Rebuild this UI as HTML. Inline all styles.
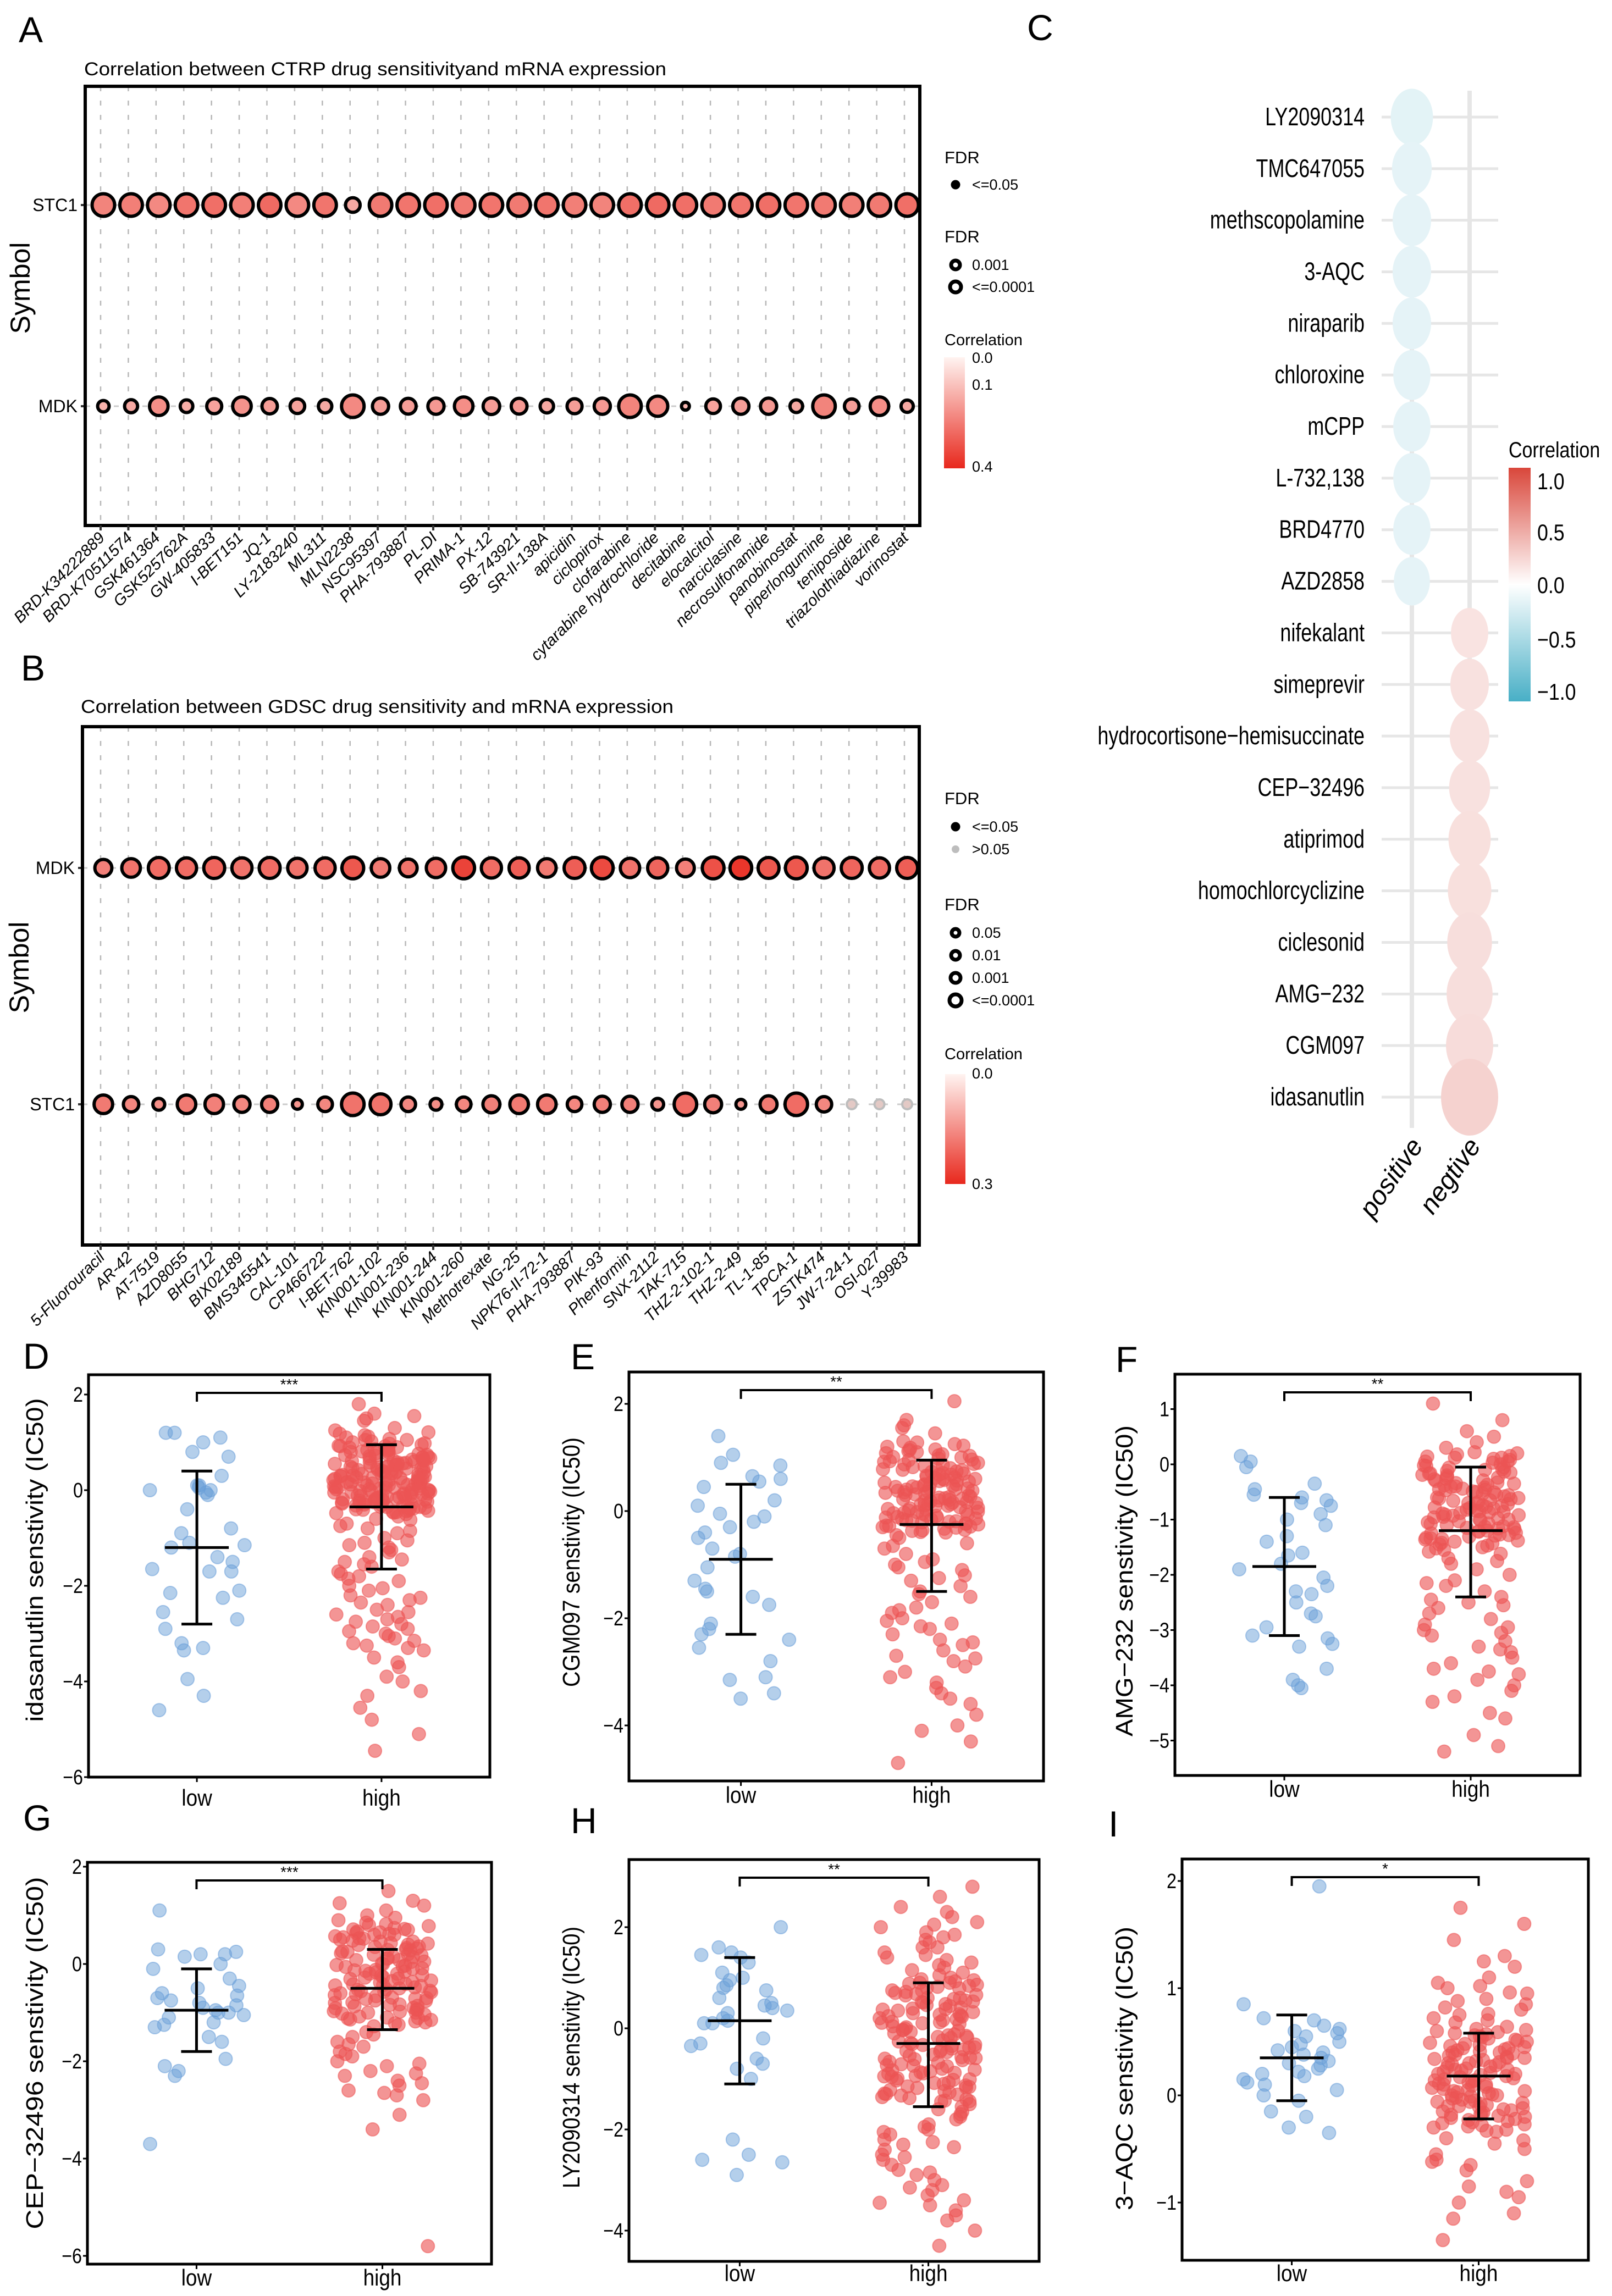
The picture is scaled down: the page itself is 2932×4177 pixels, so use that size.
<!DOCTYPE html>
<html><head><meta charset="utf-8"><style>
html,body{margin:0;padding:0;background:#fff;}
svg{display:block;font-family:"Liberation Sans",Arial,sans-serif;}
</style></head><body>
<svg id="fig" xmlns="http://www.w3.org/2000/svg" width="2932" height="4177" viewBox="0 0 2932 4177">
<defs>
<linearGradient id="gradA" x1="0" y1="0" x2="0" y2="1"><stop offset="0" stop-color="#fff4f1"/><stop offset="1" stop-color="#e8281d"/></linearGradient>
<linearGradient id="gradB" x1="0" y1="0" x2="0" y2="1"><stop offset="0" stop-color="#fff4f1"/><stop offset="1" stop-color="#e8281d"/></linearGradient>
<linearGradient id="gradC" x1="0" y1="0" x2="0" y2="1"><stop offset="0" stop-color="#d9473b"/><stop offset="0.5" stop-color="#ffffff"/><stop offset="1" stop-color="#48afc6"/></linearGradient>
</defs>
<g id="root"></g>
</svg>
<script>
// ---------- Panel A data ----------
const aDrugs = ["BRD-K34222889","BRD-K70511574","GSK461364","GSK525762A","GW-405833","I-BET151","JQ-1","LY-2183240","ML311","MLN2238","NSC95397","PHA-793887","PL-DI","PRIMA-1","PX-12","SB-743921","SR-II-138A","apicidin","ciclopirox","clofarabine","cytarabine hydrochloride","decitabine","elocalcitol","narciclasine","necrosulfonamide","panobinostat","piperlongumine","teniposide","triazolothiadiazine","vorinostat"];
const aStcCorr = [0.22,0.23,0.21,0.25,0.26,0.23,0.27,0.21,0.25,0.15,0.24,0.25,0.26,0.24,0.25,0.24,0.25,0.23,0.22,0.26,0.27,0.26,0.24,0.25,0.26,0.25,0.24,0.23,0.24,0.26];
const aStcSig = [5,5,5,5,5,5,5,5,5,3,5,5,5,5,5,5,5,5,5,5,5,5,5,5,5,5,5,5,5,5];
const aMdkCorr = [0.13,0.15,0.2,0.14,0.16,0.19,0.17,0.16,0.15,0.21,0.17,0.17,0.18,0.2,0.17,0.18,0.15,0.17,0.18,0.22,0.21,0.12,0.16,0.17,0.18,0.15,0.22,0.17,0.2,0.15];
const aMdkSig = [2.2,2.6,4,2.5,3.1,4,3.2,3,2.7,5,3.4,3.3,3.4,4,3.5,3.3,2.7,3.1,3.4,5,4.4,1.3,3,3.4,3.4,2.5,5,3,4,2.4];
// ---------- Panel B data ----------
const bDrugs = ["5-Fluorouracil","AR-42","AT-7519","AZD8055","BHG712","BIX02189","BMS345541","CAL-101","CP466722","I-BET-762","KIN001-102","KIN001-236","KIN001-244","KIN001-260","Methotrexate","NG-25","NPK76-II-72-1","PHA-793887","PIK-93","Phenformin","SNX-2112","TAK-715","THZ-2-102-1","THZ-2-49","TL-1-85","TPCA-1","ZSTK474","JW-7-24-1","OSI-027","Y-39983"];
const bMdkCorr = [0.17,0.19,0.2,0.2,0.21,0.19,0.2,0.19,0.2,0.23,0.18,0.19,0.2,0.26,0.2,0.22,0.18,0.22,0.25,0.19,0.21,0.17,0.24,0.28,0.23,0.23,0.19,0.21,0.2,0.22];
const bMdkSig = [3.6,4,4.6,4.4,4.6,4.4,4.6,4.2,4.4,4.8,4,3.8,4.2,4.8,4.4,4.4,4,4.6,4.8,4.2,4.4,3.8,4.8,4.8,4.6,4.8,4.4,4.6,4.4,4.6];
const bStcCorr = [0.18,0.16,0.15,0.18,0.17,0.16,0.17,0.14,0.16,0.19,0.19,0.16,0.15,0.16,0.17,0.18,0.18,0.16,0.17,0.17,0.14,0.2,0.17,0.14,0.18,0.2,0.16,0.05,0.05,0.05];
const bStcSig = [4,3.2,2.3,4,4,3.4,3.4,1.8,3,5,4.6,3,2.3,3,3.6,4,4,3,3.4,3.4,2.3,5,3.6,1.8,3.6,5,3.2,1.2,1.6,1.2];
const bStcSignif = [1,1,1,1,1,1,1,1,1,1,1,1,1,1,1,1,1,1,1,1,1,1,1,1,1,1,1,0,0,0];
// ---------- Panel C data ----------
const cDrugs = ["LY2090314","TMC647055","methscopolamine","3-AQC","niraparib","chloroxine","mCPP","L-732,138","BRD4770","AZD2858","nifekalant","simeprevir","hydrocortisone\u2212hemisuccinate","CEP\u221232496","atiprimod","homochlorcyclizine","ciclesonid","AMG\u2212232","CGM097","idasanutlin"];
const cGroup = [0,0,0,0,0,0,0,0,0,0,1,1,1,1,1,1,1,1,1,1];
const cCorr = [-0.17,-0.16,-0.16,-0.16,-0.16,-0.16,-0.16,-0.16,-0.16,-0.16,0.17,0.18,0.18,0.18,0.19,0.19,0.2,0.2,0.21,0.27];
const cSize = [3.4,3.2,3.1,3.1,3.1,3.0,3.0,3.0,3.0,2.9,3.0,3.1,3.2,3.3,3.4,3.5,3.6,3.7,3.8,4.6];
const cGroups = ["positive","negtive"];
// ---------- Panels D-I data ----------
const dLow = [1.2,1.1,1.0,0.8,1.2,0.7,0.3,0.1,0.1,0.05,0.0,-0.05,-0.1,-0.4,-0.8,-0.9,-1.1,-1.2,-1.15,-1.4,-1.5,-1.7,-1.65,-1.7,-2.1,-2.15,-2.25,-2.55,-2.7,-2.9,-3.2,-3.3,-3.35,-3.95,-4.3,-4.6,0.0];
const dHigh = [1.25,1.18,1.12,1.05,0.98,0.92,0.88,0.83,0.79,0.75,0.71,0.68,0.64,0.61,0.57,0.54,0.5,0.47,0.44,0.41,0.38,0.35,0.32,0.29,0.26,0.23,0.2,0.17,0.14,0.11,0.08,0.05,0.02,-0.01,-0.04,-0.07,-0.1,-0.13,-0.16,-0.19,-0.22,-0.25,-0.28,-0.31,-0.34,-0.37,-0.4,-0.43,-0.46,-0.5,1.3,1.02,0.86,0.73,0.66,0.52,0.45,0.36,0.31,0.22,0.15,0.09,0.03,-0.02,-0.09,-0.15,-0.21,-0.27,-0.33,-0.39,-0.45,-0.55,-0.62,0.95,0.81,0.69,0.58,0.49,0.4,0.33,0.27,0.19,0.12,0.06,0.0,-0.06,-0.12,-0.18,-0.24,-0.3,-0.36,-0.42,1.1,0.9,0.77,0.62,0.55,0.43,0.37,0.28,0.24,0.16,0.1,0.04,-0.03,-0.08,-0.14,-0.2,-0.26,-0.35,-0.48,1.8,1.55,1.5,1.45,1.6,-0.7,-0.75,-0.8,-0.85,-0.9,-1.0,-1.05,-1.1,-1.2,-1.25,-1.3,-1.4,-1.5,-1.55,-1.6,-1.7,-1.75,-1.8,-1.9,-2.0,-2.05,-2.1,-2.2,-2.3,-2.35,-2.4,-2.5,-2.6,-2.65,-2.7,-2.75,-2.8,-2.9,-2.95,-3.0,-3.1,-3.2,-3.25,-3.3,-3.35,-3.5,-3.6,-3.7,-3.9,-4.0,-4.2,-4.3,-4.55,-4.8,-5.1,-5.45,-0.6,-1.15,-1.45,-1.85,-2.25,-2.55,-2.85,-3.05,-3.15,1.15,1.07,0.97,0.89,0.84,0.76,0.7,0.63,0.56,0.51,0.46,0.39,0.34,0.25,0.21,0.13,0.07,0.01,-0.05,-0.11,-0.17,-0.23,-0.29,-0.38,-0.44,1.21,1.0,0.93,0.8,0.72,0.6,0.53,0.48,0.42,0.3,0.18,0.11,-0.0,-0.07,-0.19,-0.32,-0.41,0.67,0.35,0.14,-0.15,0.58,0.27,-0.26,0.85,0.45,0.05,-0.35,0.74,0.24,-0.12,1.05,0.62,0.16,-0.22,0.92,0.5,0.02,-0.47];
const dStats = [[-1.2,0.4,-2.8],[-0.35,0.95,-1.65]];
const eLow = [1.4,1.05,0.9,0.85,0.65,0.6,0.55,0.45,0.2,0.1,-0.05,-0.1,-0.2,-0.4,-0.5,-0.7,-0.8,-0.85,-1.05,-1.3,-1.45,-1.6,-1.75,-2.1,-2.2,-2.3,-2.4,-2.55,-2.8,-3.15,-3.1,-3.4,-3.5,-1.5,-0.3];
const eHigh = [1.3,1.22,1.15,1.08,1.01,0.95,0.9,0.84,0.78,0.73,0.68,0.63,0.58,0.53,0.48,0.44,0.4,0.36,0.31,0.27,0.23,0.19,0.15,0.11,0.07,0.03,-0.01,-0.05,-0.09,-0.13,-0.17,-0.21,-0.25,-0.3,-0.35,-0.4,1.25,1.12,0.98,0.87,0.76,0.66,0.56,0.46,0.38,0.29,0.21,0.13,0.05,-0.03,-0.11,-0.19,-0.27,-0.37,1.18,1.04,0.92,0.8,0.7,0.6,0.5,0.42,0.34,0.25,0.17,0.09,0.01,-0.07,-0.15,-0.23,-0.33,-0.45,0.2,0.5,2.05,1.7,1.6,1.55,1.45,-0.5,-0.6,-0.7,-0.8,-0.9,-1.0,-1.1,-1.2,-1.3,-1.4,-1.5,-1.6,-1.7,-1.8,-1.9,-2.0,-2.05,-2.1,-2.2,-2.3,-2.4,-2.5,-2.6,-2.7,-2.8,-2.9,-3.0,-3.1,-3.2,-3.3,-3.5,-3.6,-3.8,-4.0,-4.1,-4.3,-4.7,-0.95,-1.25,-1.55,-1.85,-2.15,-2.45,-2.75,-3.4,-0.65,-1.05,1.28,1.2,1.1,1.03,0.93,0.86,0.77,0.71,0.62,0.55,0.47,0.41,0.33,0.26,0.18,0.12,0.04,-0.02,-0.08,-0.16,-0.24,-0.31,-0.39,1.14,1.06,0.96,0.82,0.74,0.64,0.52,0.43,0.35,0.22,0.14,0.06,-0.04,-0.12,-0.2,-0.29,0.88,0.57,0.3,0.0,-0.18,0.68,0.38,0.1,-0.28,1.0,0.6,0.24,-0.14,0.79,0.45,0.16,-0.36];
const eStats = [[-0.9,0.5,-2.3],[-0.25,0.95,-1.5]];
const fLow = [0.15,0.05,-0.05,-0.35,-0.45,-0.55,-0.6,-0.65,-0.7,-0.75,-0.9,-1.0,-1.1,-1.3,-1.4,-1.6,-1.65,-1.8,-1.9,-2.05,-2.2,-2.3,-2.35,-2.5,-2.7,-2.75,-2.95,-3.1,-3.15,-3.25,-3.3,-3.7,-3.9,-4.05,-4.0];
const fHigh = [0.2,0.12,0.05,-0.02,-0.09,-0.16,-0.23,-0.3,-0.37,-0.44,-0.51,-0.58,-0.65,-0.72,-0.79,-0.86,-0.93,-1.0,-1.07,-1.14,-1.21,-1.28,-1.35,-1.42,-1.5,-1.58,0.15,0.0,-0.13,-0.26,-0.4,-0.53,-0.68,-0.82,-0.96,-1.1,-1.24,-1.38,-1.52,0.08,-0.06,-0.2,-0.33,-0.47,-0.61,-0.75,-0.89,-1.03,-1.17,-1.31,-1.45,-1.62,-0.55,-0.85,-0.35,-1.15,-0.7,-0.95,0.18,-0.1,-0.42,-0.77,-1.12,-1.4,1.1,0.8,0.6,0.5,0.4,0.3,-1.7,-1.8,-1.9,-2.0,-2.1,-2.2,-2.3,-2.4,-2.5,-2.6,-2.7,-2.8,-2.9,-3.0,-3.1,-3.2,-3.3,-3.4,-3.5,-3.6,-3.7,-3.8,-3.9,-4.0,-4.1,-4.2,-4.3,-4.5,-4.6,-4.9,-5.1,-5.2,-2.15,-2.55,-2.95,-3.35,-3.75,-1.75,-2.45,-3.05,0.22,0.14,0.03,-0.05,-0.12,-0.19,-0.27,-0.34,-0.41,-0.49,-0.56,-0.63,-0.71,-0.78,-0.84,-0.91,-0.98,-1.05,-1.13,-1.2,-1.27,-1.34,-1.43,-1.55,0.1,-0.03,-0.17,-0.29,-0.45,-0.6,-0.74,-0.88,-1.01,-1.16,-1.29,-1.47,-0.24,-0.5,-0.8,-1.08,-1.36,0.05,-0.38,-0.66,-0.92,-1.22,-0.15,-0.62,-1.0,-1.33,0.12,-0.46,-0.87,-1.25];
const fStats = [[-1.85,-0.6,-3.1],[-1.2,-0.05,-2.4]];
const gLow = [1.1,0.3,0.25,0.2,0.2,0.15,0.0,-0.1,-0.3,-0.45,-0.6,-0.65,-0.7,-0.8,-0.85,-0.9,-0.95,-1.0,-1.0,-1.05,-1.1,-1.2,-1.25,-1.3,-1.5,-1.6,-1.95,-2.1,-2.2,-2.3,-3.7,-0.75,-0.5];
const gHigh = [0.85,0.78,0.71,0.64,0.57,0.5,0.43,0.36,0.29,0.22,0.15,0.08,0.01,-0.06,-0.13,-0.2,-0.27,-0.34,-0.41,-0.48,-0.55,-0.62,-0.69,-0.76,-0.83,-0.9,-0.97,-1.04,-1.11,-1.18,-1.25,0.8,0.65,0.52,0.4,0.26,0.12,-0.02,-0.16,-0.3,-0.44,-0.58,-0.72,-0.86,-1.0,-1.14,-1.28,0.72,0.6,0.46,0.32,0.18,0.04,-0.1,-0.24,-0.38,-0.52,-0.66,-0.8,-0.94,-1.08,-1.22,-0.45,-0.05,0.35,1.5,1.3,1.25,1.2,1.1,1.0,0.95,-1.4,-1.5,-1.6,-1.7,-1.8,-1.9,-2.0,-2.1,-2.2,-2.3,-2.4,-2.5,-2.6,-2.7,-2.8,-1.45,-1.65,-1.85,-2.05,-2.25,-2.45,-2.65,-3.1,-3.4,-5.8,0.9,0.82,0.74,0.67,0.6,0.53,0.46,0.39,0.33,0.25,0.19,0.11,0.05,-0.03,-0.09,-0.17,-0.23,-0.31,-0.37,-0.43,-0.5,-0.57,-0.64,-0.71,-0.79,-0.87,-0.93,-1.02,-1.1,-1.2,0.7,0.55,0.42,0.28,0.14,0.0,-0.14,-0.28,-0.42,-0.56,-0.7,-0.84,-0.98,-1.12,0.62,0.2,-0.2,-0.6,-1.0,0.48,0.08,-0.35,-0.75,-1.15,0.3,-0.12,-0.53,-0.91];
const gStats = [[-0.95,-0.1,-1.8],[-0.5,0.3,-1.35]];
const hLow = [2.0,1.6,1.5,1.4,1.45,1.3,1.1,1.0,0.95,0.8,0.75,0.6,0.5,0.4,0.35,0.3,0.2,0.1,0.1,-0.2,-0.3,-0.35,-0.6,-0.7,-0.8,-1.0,-2.2,-2.5,-2.6,-2.65,-2.9,0.85,0.45,0.15];
const hHigh = [1.0,0.93,0.86,0.79,0.72,0.65,0.58,0.51,0.44,0.37,0.3,0.23,0.16,0.09,0.02,-0.05,-0.12,-0.19,-0.26,-0.33,-0.4,-0.47,-0.54,-0.61,-0.68,-0.75,-0.82,-0.89,-0.96,-1.03,-1.1,-1.17,-1.24,-1.31,-1.38,-1.45,0.95,0.8,0.66,0.52,0.38,0.24,0.1,-0.04,-0.18,-0.32,-0.46,-0.6,-0.74,-0.88,-1.02,-1.16,-1.3,-1.44,0.88,0.7,0.55,0.41,0.27,0.13,-0.01,-0.15,-0.29,-0.43,-0.57,-0.71,-0.85,-0.99,-1.13,-1.27,-1.5,2.8,2.6,2.4,2.3,2.2,2.1,2.0,1.9,1.8,1.7,1.6,1.5,1.4,1.3,1.2,1.1,2.05,1.75,1.45,1.15,-1.6,-1.7,-1.8,-1.9,-2.0,-2.1,-2.2,-2.3,-2.4,-2.5,-2.6,-2.7,-2.8,-2.9,-3.0,-3.1,-3.2,-3.3,-3.4,-3.5,-3.6,-3.7,-3.8,-4.0,-4.3,-1.65,-1.95,-2.25,-2.55,-2.85,-3.15,-3.45,1.05,0.97,0.9,0.82,0.75,0.68,0.6,0.53,0.46,0.39,0.32,0.25,0.18,0.11,0.04,-0.03,-0.1,-0.17,-0.24,-0.31,-0.38,-0.45,-0.52,-0.59,-0.66,-0.73,-0.8,-0.87,-0.94,-1.01,-1.08,-1.15,-1.22,-1.29,-1.36,-1.43,0.84,0.6,0.35,0.12,-0.14,-0.38,-0.63,-0.9,-1.18,-1.4,0.74,0.48,0.2,-0.07,-0.35,-0.58,-0.83,-1.07,-1.33,0.9,0.28,-0.42,-0.95,1.25,1.35,1.6,1.85,-1.55,-1.75,-2.05,-2.35];
const hStats = [[0.15,1.4,-1.1],[-0.3,0.9,-1.55]];
const iLow = [1.95,0.85,0.72,0.7,0.65,0.62,0.6,0.55,0.5,0.48,0.45,0.42,0.4,0.38,0.35,0.32,0.3,0.28,0.25,0.22,0.2,0.18,0.15,0.12,0.1,0.05,0.0,-0.05,-0.15,-0.2,-0.3,-0.35,0.58];
const iHigh = [0.62,0.58,0.54,0.5,0.46,0.42,0.38,0.34,0.3,0.26,0.22,0.18,0.14,0.1,0.06,0.02,-0.02,-0.06,-0.1,-0.14,-0.18,-0.22,-0.26,-0.3,-0.34,0.6,0.52,0.44,0.36,0.28,0.2,0.12,0.04,-0.04,-0.12,-0.2,-0.28,0.56,0.48,0.4,0.32,0.24,0.16,0.08,0.0,-0.08,-0.16,-0.24,-0.32,0.2,0.1,0.3,0.0,0.4,-0.1,1.75,1.6,1.45,1.3,1.25,1.2,1.1,1.05,1.0,0.95,0.9,0.85,0.8,0.75,0.7,-0.4,-0.45,-0.5,-0.55,-0.6,-0.65,-0.7,-0.8,-0.85,-0.9,-0.95,-1.0,-1.1,-1.15,-1.35,0.68,0.72,-0.42,-0.62,0.64,0.59,0.55,0.51,0.47,0.43,0.39,0.35,0.31,0.27,0.23,0.19,0.15,0.11,0.07,0.03,-0.01,-0.05,-0.09,-0.13,-0.17,-0.21,-0.25,-0.29,-0.33,0.61,0.53,0.45,0.37,0.29,0.21,0.13,0.05,-0.03,-0.11,-0.19,-0.27,0.57,0.41,0.25,0.09,-0.07,-0.23,0.49,0.33,0.17,0.01,-0.15,0.44,0.24,0.04,-0.18,0.35,0.14,-0.06,1.02,0.96,0.88,0.82,0.76];
const iStats = [[0.35,0.75,-0.05],[0.18,0.58,-0.22]];
const groupLabels = ["low","high"];

const NS = "http://www.w3.org/2000/svg";
const root = document.getElementById("root");
function el(tag, attrs, parent, text){
  const e = document.createElementNS(NS, tag);
  for (const k in attrs) e.setAttribute(k, attrs[k]);
  if (text !== undefined) e.textContent = text;
  (parent || root).appendChild(e);
  return e;
}
function grp(name, parent){
  const g = el("g", {}, parent);
  
  
  return g;
}
function label(g, x, y, txt, size, name, extra){
  const a = Object.assign({x:x, y:y, "font-size":size, fill:"#000"}, extra || {});
  const t = el("text", a, g, txt);
  
  
  return t;
}
function redScale(v, max){
  const t = Math.max(0, Math.min(1, v / max));
  const r = Math.round(255 + (232 - 255) * t), gg = Math.round(244 + (40 - 244) * t), b = Math.round(241 + (29 - 241) * t);
  return "rgb(" + r + "," + gg + "," + b + ")";
}

[["A",34,77],["B",38,1238],["C",1868,73],["D",42,2490],["E",1038,2491],["F",2029,2496],["G",42,3330],["H",1038,3335],["I",2016,3341]].forEach(p=>{
  label(root, p[1], p[2], p[0], 66, "panel-label-" + p[0].toLowerCase());
});

// ---------- Bubble panels A & B ----------
function bubblePanel(cfg){
  const g = grp(cfg.name);
  const x0 = cfg.box[0], y0 = cfg.box[1], x1 = cfg.box[2], y1 = cfg.box[3];
  const n = cfg.drugs.length;
  const xs = i => 183 + i * (1645 - 183) / (n - 1);
  label(g, cfg.titleX, cfg.titleY, cfg.title, 34, "chart-title", {textLength: cfg.titleLen, lengthAdjust:"spacingAndGlyphs"});
  for (let i = 0; i < n; i++) {
    const l = el("line", {x1: xs(i), x2: xs(i), y1: y0, y2: y1, stroke: "#b8b8b8", "stroke-width": 2.5, "stroke-dasharray": "9 17"}, g);
    
    
  }
  cfg.rows.forEach(r => {
    const l = el("line", {x1: x0, x2: x1, y1: r.y, y2: r.y, stroke: "#cccccc", "stroke-width": 3, "stroke-dasharray": "9 17"}, g);
    
    
    label(g, x0 - 14, r.y + 11, r.label, 32, "y-tick-label", {"text-anchor": "end"});
    const tk = el("line", {x1: x0 - 8, x2: x0, y1: r.y, y2: r.y, stroke: "#333", "stroke-width": 4}, g);
    
    
    for (let i = 0; i < n; i++) {
      const sig = r.sig[i];
      const rad = 2.5 + 3.6 * sig;
      const ok = r.signif ? r.signif[i] : 1;
      const c = el("circle", {cx: xs(i) + 5, cy: r.y, r: ok ? rad : 9,
        fill: ok ? redScale(r.corr[i], cfg.cmax) : "#e3c9c5",
        stroke: ok ? "#000" : "#bdbdbd", "stroke-width": ok ? 6 : 4}, g);
      
      
    }
  });
  const box = el("rect", {x: x0, y: y0, width: x1 - x0, height: y1 - y0, fill: "none", stroke: "#000", "stroke-width": 6}, g);
  
  
  for (let i = 0; i < n; i++) {
    const tk = el("line", {x1: xs(i), x2: xs(i), y1: y1, y2: y1 + 9, stroke: "#333", "stroke-width": 4}, g);
    
    
    label(g, 0, 0, cfg.drugs[i], 29, "x-tick-label", {"text-anchor": "end", "font-style": "italic",
      transform: "translate(" + (xs(i) + 9) + "," + (y1 + 24) + ") rotate(-45)"});
  }
  label(g, 0, 0, "Symbol", 50, "y-axis-title", {"text-anchor": "middle", transform: "translate(" + (cfg.symX) + "," + cfg.symY + ") rotate(-90)"});
  return g;
}
bubblePanel({name: "panel-a-ctrp-bubble", box: [155, 157, 1673, 956], drugs: aDrugs, cmax: 0.4,
  title: "Correlation between CTRP drug sensitivityand mRNA expression", titleX: 153, titleY: 137, titleLen: 1059,
  symX: 54, symY: 524,
  rows: [{label: "STC1", y: 373, corr: aStcCorr, sig: aStcSig}, {label: "MDK", y: 739, corr: aMdkCorr, sig: aMdkSig}]});
bubblePanel({name: "panel-b-gdsc-bubble", box: [150, 1322, 1672, 2265], drugs: bDrugs, cmax: 0.3,
  title: "Correlation between GDSC drug sensitivity and mRNA expression", titleX: 147, titleY: 1297, titleLen: 1078,
  symX: 52, symY: 1760,
  rows: [{label: "MDK", y: 1579, corr: bMdkCorr, sig: bMdkSig}, {label: "STC1", y: 2009, corr: bStcCorr, sig: bStcSig, signif: bStcSignif}]});

(function(){
  const g = grp("legend-a");
  label(g, 1718, 297, "FDR", 31, "legend-title");
  let c = el("circle", {cx: 1738, cy: 336, r: 6, fill: "#000", stroke: "#000", "stroke-width": 5}, g);
   
  label(g, 1768, 345, "<=0.05", 27, "legend-label");
  label(g, 1718, 441, "FDR", 31, "legend-title");
  c = el("circle", {cx: 1738, cy: 482, r: 8, fill: "#fff", stroke: "#000", "stroke-width": 7}, g);
   
  label(g, 1768, 491, "0.001", 27, "legend-label");
  c = el("circle", {cx: 1738, cy: 522, r: 10, fill: "#fff", stroke: "#000", "stroke-width": 7}, g);
   
  label(g, 1768, 531, "<=0.0001", 27, "legend-label");
  label(g, 1718, 628, "Correlation", 29, "legend-title");
  const r = el("rect", {x: 1717, y: 650, width: 38, height: 202, fill: "url(#gradA)"}, g);
   
  label(g, 1768, 660, "0.0", 27, "colorbar-label");
  label(g, 1768, 709, "0.1", 27, "colorbar-label");
  label(g, 1768, 858, "0.4", 27, "colorbar-label");
})();
(function(){
  const g = grp("legend-b");
  label(g, 1718, 1463, "FDR", 31, "legend-title");
  let c = el("circle", {cx: 1738, cy: 1504, r: 6, fill: "#000", stroke: "#000", "stroke-width": 5}, g);
   
  label(g, 1768, 1513, "<=0.05", 27, "legend-label");
  c = el("circle", {cx: 1738, cy: 1545, r: 7, fill: "#bdbdbd"}, g);
   
  label(g, 1768, 1554, ">0.05", 27, "legend-label");
  label(g, 1718, 1656, "FDR", 31, "legend-title");
  [[1697, 7, "0.05"], [1738, 8, "0.01"], [1779, 9, "0.001"], [1820, 11, "<=0.0001"]].forEach(d => {
    const cc = el("circle", {cx: 1738, cy: d[0], r: d[1], fill: "#fff", stroke: "#000", "stroke-width": 7}, g);
     
    label(g, 1768, d[0] + 9, d[2], 27, "legend-label");
  });
  label(g, 1718, 1927, "Correlation", 29, "legend-title");
  const r = el("rect", {x: 1719, y: 1954, width: 37, height: 200, fill: "url(#gradB)"}, g);
   
  label(g, 1768, 1962, "0.0", 27, "colorbar-label");
  label(g, 1768, 2163, "0.3", 27, "colorbar-label");
})();

// ---------- Panel C ----------
(function(){
  const g = grp("panel-c-correlation-dots");
  const colX = i => 2568 + i * 105;
  const rowY = i => 213 + i * (1996 - 213) / (cDrugs.length - 1);
  [0, 1].forEach(i => {
    const l = el("line", {x1: colX(i), x2: colX(i), y1: 165, y2: 2052, stroke: "#e6e6e6", "stroke-width": 8}, g);
     
  });
  cDrugs.forEach((d, i) => {
    const l = el("line", {x1: 2513, x2: 2725, y1: rowY(i), y2: rowY(i), stroke: "#e6e6e6", "stroke-width": 5}, g);
     
    label(g, 0, 0, d, 46, "drug-label", {"text-anchor": "end", transform: "translate(2482," + (rowY(i) + 15) + ") scale(0.78,1)"});
  });
  cDrugs.forEach((d, i) => {
    const v = cCorr[i];
    let col;
    if (v >= 0) { const t = v; col = "rgb(" + Math.round(255 - 38 * t) + "," + Math.round(255 - 184 * t * 0.9) + "," + Math.round(255 - 196 * t * 0.9) + ")"; }
    else { const t = -v; col = "rgb(" + Math.round(255 - 183 * t * 0.9) + "," + Math.round(255 - 80 * t * 0.9) + "," + Math.round(255 - 57 * t * 0.9) + ")"; }
    const s = cSize[i];
    const e = el("ellipse", {cx: colX(cGroup[i]), cy: rowY(i), rx: 11.3 * s, ry: 15.2 * s, fill: col}, g);
    
    
  });
  cGroups.forEach((t, i) => {
    label(g, 0, 0, t, 48, "x-tick-label", {"text-anchor": "end", "font-style": "italic", transform: "translate(" + (colX(i) + 22) + ",2085) rotate(-55)"});
  });
  label(g, 2744, 832, "Correlation", 40, "legend-title", {transform: "translate(2744,832) scale(0.85,1) translate(-2744,-832)"});
  const r = el("rect", {x: 2744, y: 851, width: 40, height: 425, fill: "url(#gradC)"}, g);
   
  [["1.0", 875], ["0.5", 968], ["0.0", 1064], ["\u22120.5", 1163], ["\u22121.0", 1258]].forEach(d => {
    label(g, 2796, d[1] + 15, d[0], 42, "colorbar-label", {transform: "translate(2796," + (d[1] + 15) + ") scale(0.85,1) translate(-2796," + (-(d[1] + 15)) + ")"});
  });
})();

// ---------- Scatter panels D-I ----------
function jitter(i, seed){ const s = Math.sin(i * 12.9898 + seed * 78.233) * 43758.5453; return s - Math.floor(s); }
function scatterPanel(cfg){
  const g = grp(cfg.name);
  const x0 = cfg.box[0], y0 = cfg.box[1], x1 = cfg.box[2], y1 = cfg.box[3];
  const yScale = v => cfg.y0px + (cfg.y0v - v) * cfg.pxPerUnit;
  const gx = i => x0 + (x1 - x0) * (i === 0 ? 0.27 : 0.73);
  const rect = el("rect", {x: x0, y: y0, width: x1 - x0, height: y1 - y0, fill: "#fff"}, g);
   
  [cfg.low, cfg.high].forEach((vals, gi) => {
    const fill = gi === 0 ? "#6a9fd8" : "#ec5454";
    vals.forEach((v, i) => {
      const jx = gx(gi) + (jitter(i, cfg.seed + gi) - 0.5) * 178;
      const c = el("circle", {cx: jx, cy: yScale(v), r: 12, fill: fill, "fill-opacity": gi === 0 ? 0.5 : 0.62, stroke: fill, "stroke-opacity": 0.55, "stroke-width": 2}, g);
      
      
    });
  });
  cfg.stats.forEach((s, gi) => {
    const cx = gx(gi);
    const parts = [[cx, yScale(s[1]), cx, yScale(s[2])], [cx - 28, yScale(s[1]), cx + 28, yScale(s[1])], [cx - 28, yScale(s[2]), cx + 28, yScale(s[2])], [cx - 58, yScale(s[0]), cx + 58, yScale(s[0])]];
    parts.forEach(p => {
      const l = el("line", {x1: p[0], y1: p[1], x2: p[2], y2: p[3], stroke: "#000", "stroke-width": 5}, g);
       
    });
  });
  const by = y0 + 33;
  const br = el("path", {d: "M" + gx(0) + "," + (by + 16) + "V" + by + "H" + gx(1) + "V" + (by + 16), fill: "none", stroke: "#000", "stroke-width": 4}, g);
   
  label(g, (gx(0) + gx(1)) / 2, by - 6, cfg.stars, 28, "significance-stars", {"text-anchor": "middle"});
  const box = el("rect", {x: x0, y: y0, width: x1 - x0, height: y1 - y0, fill: "none", stroke: "#000", "stroke-width": 5}, g);
   
  cfg.ticks.forEach(t => {
    const y = yScale(t);
    const l = el("line", {x1: x0 - 8, x2: x0, y1: y, y2: y, stroke: "#000", "stroke-width": 3}, g);
     
    label(g, x0 - 10, y + 13, t < 0 ? "\u2212" + Math.abs(t) : String(t), 38, "y-tick-label", {"text-anchor": "end", transform: "translate(" + (x0 - 10) + "," + (y + 13) + ") scale(0.85,1) translate(" + (-(x0 - 10)) + "," + (-(y + 13)) + ")"});
  });
  groupLabels.forEach((t, i) => {
    const l = el("line", {x1: gx(i), x2: gx(i), y1: y1, y2: y1 + 9, stroke: "#000", "stroke-width": 3}, g);
     
    label(g, gx(i), cfg.xlabY, t, 42, "x-tick-label", {"text-anchor": "middle", transform: "translate(" + gx(i) + "," + cfg.xlabY + ") scale(0.88,1) translate(" + (-gx(i)) + "," + (-cfg.xlabY) + ")"});
  });
  label(g, 0, 0, cfg.ytitle, 44, "y-axis-title", {"text-anchor": "middle", "xml:space": "preserve", textLength: cfg.tlen, lengthAdjust: "spacingAndGlyphs", transform: "translate(" + cfg.tx + "," + cfg.ty + ") rotate(-90)"});
}
scatterPanel({name: "panel-d-idasanutlin", box: [161, 2501, 891, 3233], y0v: 0, y0px: 2711, pxPerUnit: 87, ticks: [2, 0, -2, -4, -6],
  low: dLow, high: dHigh, stats: dStats, stars: "***", seed: 1, xlabY: 3285, ytitle: "idasanutlin  senstivity (IC50)", tlen: 589, tx: 78, ty: 2838});
scatterPanel({name: "panel-e-cgm097", box: [1144, 2496, 1898, 3240], y0v: 0, y0px: 2749, pxPerUnit: 97.5, ticks: [2, 0, -2, -4],
  low: eLow, high: eHigh, stats: eStats, stars: "**", seed: 3, xlabY: 3280, ytitle: "CGM097  senstivity (IC50)", tlen: 454, tx: 1054, ty: 2842});
scatterPanel({name: "panel-f-amg232", box: [2137, 2500, 2874, 3230], y0v: 0, y0px: 2664, pxPerUnit: 100.5, ticks: [1, 0, -1, -2, -3, -4, -5],
  low: fLow, high: fHigh, stats: fStats, stars: "**", seed: 5, xlabY: 3269, ytitle: "AMG\u2212232  senstivity (IC50)", tlen: 566, tx: 2060, ty: 2876});
scatterPanel({name: "panel-g-cep32496", box: [159, 3388, 894, 4119], y0v: 0, y0px: 3573, pxPerUnit: 88.5, ticks: [2, 0, -2, -4, -6],
  low: gLow, high: gHigh, stats: gStats, stars: "***", seed: 7, xlabY: 4158, ytitle: "CEP\u221232496     senstivity (IC50)", tlen: 641, tx: 78, ty: 3735});
scatterPanel({name: "panel-h-ly2090314", box: [1144, 3383, 1890, 4114], y0v: 0, y0px: 3690, pxPerUnit: 92, ticks: [2, 0, -2, -4],
  low: hLow, high: hHigh, stats: hStats, stars: "**", seed: 9, xlabY: 4150, ytitle: "LY2090314 senstivity (IC50)", tlen: 476, tx: 1054, ty: 3743});
scatterPanel({name: "panel-i-3aqc", box: [2150, 3382, 2889, 4112], y0v: 0, y0px: 3812, pxPerUnit: 195, ticks: [2, 1, 0, -1],
  low: iLow, high: iHigh, stats: iStats, stars: "*", seed: 11, xlabY: 4150, ytitle: "3\u2212AQC  senstivity (IC50)", tlen: 516, tx: 2060, ty: 3763});
</script>
</body></html>
